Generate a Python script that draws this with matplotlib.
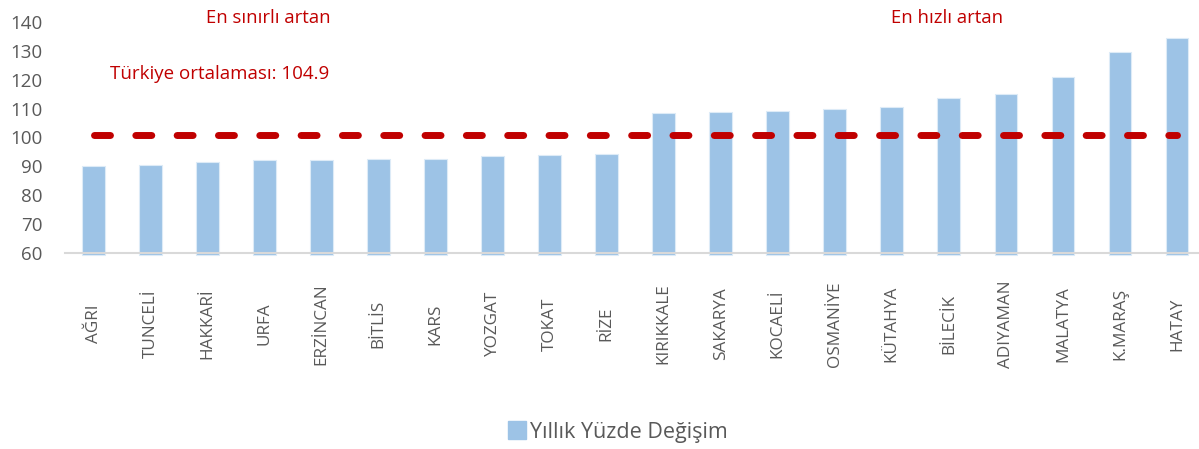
import matplotlib
matplotlib.use("Agg")
import matplotlib.pyplot as plt
from matplotlib.patches import Patch

categories = ["AĞRI", "TUNCELİ", "HAKKARİ", "URFA", "ERZİNCAN", "BİTLİS", "KARS",
              "YOZGAT", "TOKAT", "RİZE", "KIRIKKALE", "SAKARYA", "KOCAELİ",
              "OSMANİYE", "KÜTAHYA", "BİLECİK", "ADIYAMAN", "MALATYA", "K.MARAŞ", "HATAY"]
values = [90.1, 90.5, 91.6, 92.2, 92.2, 92.6, 92.6, 93.5, 93.9, 94.2,
          108.5, 108.8, 109.3, 110.0, 110.5, 113.6, 115.2, 120.8, 129.5, 134.5]
average_line = 101.0
series_name = "Yıllık Yüzde Değişim"
y_ticks = [60, 70, 80, 90, 100, 110, 120, 130, 140]

W, H = 1199, 449
fig = plt.figure(figsize=(W / 100, H / 100), dpi=100)
ax = fig.add_axes([65 / W, 1 - 253 / H, 1 - 65 / W, (253 - 22) / H])

x = list(range(len(categories)))
ax.bar(x, [v - 59.3 for v in values], bottom=59.3, width=0.4, color="#9DC3E6",
       edgecolor="#DDEBF7", linewidth=0.8, clip_on=False, zorder=2)
ax.plot([0, len(categories) - 1], [average_line, average_line], color="#C00000",
        lw=5.0, dashes=(2.3, 3.65), dash_capstyle="round", zorder=3)

ax.set_ylim(60, 140)
ax.set_xlim(-0.5, (W - 94) / 57)
ax.set_yticks(y_ticks)
ax.set_xticks(x)
ax.set_xticklabels(categories, rotation=90, fontsize=12.3, color="#595959", family="Open Sans")
for lab in ax.get_xticklabels():
    lab.set_va("center")
ax.tick_params(axis="x", length=0, pad=51)
ax.tick_params(axis="y", length=0, pad=16, labelsize=13.5, labelcolor="#595959")
for lab in ax.get_yticklabels():
    lab.set_family("Open Sans")
for s in ["top", "right", "left"]:
    ax.spines[s].set_visible(False)
ax.spines["bottom"].set_color("#D9D9D9")
ax.spines["bottom"].set_linewidth(1.5)
ax.spines["bottom"].set_zorder(2.5)

red = "#C00000"
fig.text(268 / W, 1 - 18 / H, "En sınırlı artan", color=red, fontsize=13.3,
         ha="center", va="center", family="Open Sans")
fig.text(220 / W, 1 - 74 / H, "Türkiye ortalaması: 104.9", color=red, fontsize=13.5,
         ha="center", va="center", family="Open Sans")
fig.text(947 / W, 1 - 18 / H, "En hızlı artan", color=red, fontsize=13.3,
         ha="center", va="center", family="Open Sans")

handle = Patch(facecolor="#9DC3E6", edgecolor="#9DC3E6")
fig.legend([handle], [series_name], loc="center", bbox_to_anchor=(618 / W, 1 - 432 / H),
           frameon=False, handlelength=0.8, handleheight=0.85, handletextpad=0.2,
           borderpad=0, prop={"family": "Open Sans", "size": 15.5}, labelcolor="#595959")

fig.savefig("out.png", dpi=100)
